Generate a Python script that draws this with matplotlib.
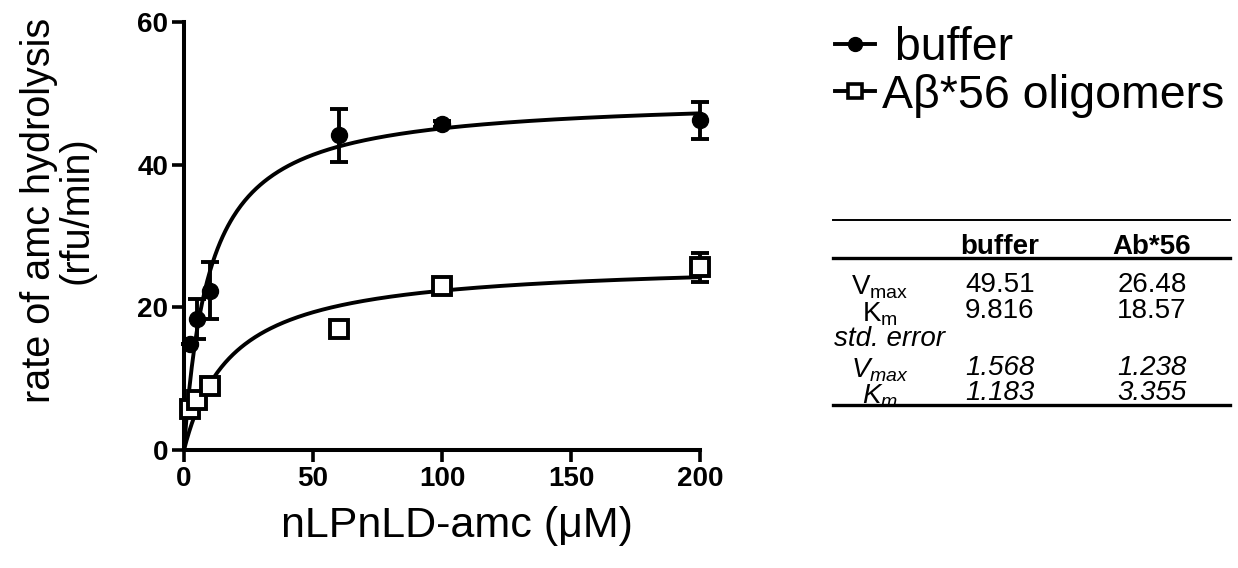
import numpy as np
import matplotlib
matplotlib.use("Agg")
import matplotlib.pyplot as plt
from matplotlib.lines import Line2D

plt.rcParams['font.family'] = ['Liberation Sans', 'DejaVu Sans']
plt.rcParams['mathtext.fontset'] = 'custom'
plt.rcParams['mathtext.rm'] = 'Liberation Sans'
plt.rcParams['mathtext.it'] = 'Liberation Sans:italic'

# datos
conc = [2.5, 5, 10, 60, 100, 200]
buffer_y = [14.8, 18.4, 22.3, 44.1, 45.7, 46.2]
buffer_err = [0, 2.8, 4.0, 3.7, 0.4, 2.6]
abeta_y = [5.8, 7.0, 9.0, 16.9, 23.0, 25.6]
abeta_err = [0, 0, 1.0, 0, 0.5, 2.0]

# parametros del ajuste (tabla)
col_names = ['buffer', 'Ab*56']
vmax = [49.51, 26.48]
km = [9.816, 18.57]
vmax_se = ['1.568', '1.238']
km_se = ['1.183', '3.355']
vmax_txt = ['49.51', '26.48']
km_txt = ['9.816', '18.57']

W, H = 1238, 568
fig = plt.figure(figsize=(W / 100, H / 100), dpi=100)
ax = fig.add_axes([184 / W, 1 - 450 / H, 516 / W, 428 / H])

# curvas de Michaelis-Menten con los parametros de la tabla
xs = np.linspace(0, 200, 400)
ax.plot(xs, vmax[0] * xs / (km[0] + xs), color='black', lw=2.8, zorder=2)
ax.plot(xs, vmax[1] * xs / (km[1] + xs), color='black', lw=2.8, zorder=2)

ax.errorbar(conc, buffer_y, yerr=buffer_err, fmt='o', color='black', ms=11.5,
            elinewidth=2.8, capsize=6.5, capthick=2.8, clip_on=False, zorder=3)
ax.errorbar(conc, abeta_y, yerr=abeta_err, fmt='s', color='black', mfc='white',
            ms=12.5, mew=2.8, elinewidth=2.8, capsize=6.5, capthick=2.8,
            clip_on=False, zorder=3)

ax.set_xlim(0, 200)
ax.set_ylim(0, 60)
ax.set_xticks([0, 50, 100, 150, 200])
ax.set_yticks([0, 20, 40, 60])
for s in ['top', 'right']:
    ax.spines[s].set_visible(False)
for s in ['left', 'bottom']:
    ax.spines[s].set_linewidth(2.9)
ax.tick_params(direction='out', length=8.5, width=2.6, pad=3)
for lab in ax.get_xticklabels() + ax.get_yticklabels():
    lab.set_family(['Liberation Sans Narrow', 'Liberation Sans'])
    lab.set_fontweight('bold')
    lab.set_fontsize(20)

fig.text(457 / W, 1 - 526 / H, 'nLPnLD-amc (\u03bcM)', fontsize=31,
         ha='center', va='center')
fig.text(58 / W, 1 - 210 / H, 'rate of amc hydrolysis\n(rfu/min)', fontsize=28.5,
         rotation=90, ha='center', va='center', multialignment='center',
         linespacing=1.0)

# leyenda
h1 = Line2D([], [], color='black', lw=2.8, marker='o', ms=10)
h2 = Line2D([], [], color='black', lw=2.8, marker='s', ms=10, mfc='white', mew=2.6)
fig.legend([h1, h2], [' buffer', 'A\u03b2*56 oligomers'], loc='upper left',
           bbox_to_anchor=(835 / W, 1 - 26 / H), frameon=False, fontsize=33.5,
           handlelength=0.85, handletextpad=0.15, labelspacing=0.08,
           borderpad=0, borderaxespad=0)

# tabla de parametros
tab = fig.add_axes([833 / W, 1 - 406 / H, 397 / W, 187 / H])
tab.set_xlim(833, 1230)
tab.set_ylim(406, 219)
tab.axis('off')
for yy, lw in [(220, 1.4), (258, 2.4), (405, 2.4)]:
    tab.plot([833, 1230], [yy, yy], color='black', lw=lw, clip_on=False)

fs = 20
cx = [1000, 1152]
for c, name in enumerate(col_names):
    tab.text(cx[c], 247, name, fontsize=fs, fontweight='bold', ha='center', va='center')
    tab.text(cx[c], 285, vmax_txt[c], fontsize=fs, ha='center', va='center')
    tab.text(cx[c], 311, km_txt[c], fontsize=fs, ha='center', va='center')
    tab.text(cx[c], 368, vmax_se[c], fontsize=fs, style='italic', ha='center', va='center')
    tab.text(cx[c], 393, km_se[c], fontsize=fs, style='italic', ha='center', va='center')

tab.text(880, 287, r'V$_{\mathrm{max}}$', fontsize=fs, ha='center', va='center')
tab.text(880, 314, r'K$_{\mathrm{m}}$', fontsize=fs, ha='center', va='center')
tab.text(834, 339, 'std. error', fontsize=fs, style='italic', ha='left', va='center')
tab.text(880, 370, r'$\mathit{V}_{\mathit{max}}$', fontsize=fs, ha='center', va='center')
tab.text(880, 396, r'$\mathit{K}_{\mathit{m}}$', fontsize=fs, ha='center', va='center')

fig.savefig('out.png', dpi=100)
